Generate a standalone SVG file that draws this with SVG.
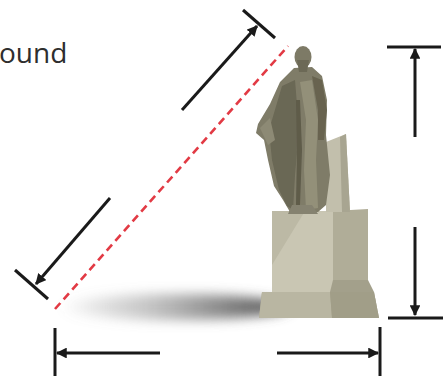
<svg xmlns="http://www.w3.org/2000/svg" width="447" height="376" viewBox="0 0 447 376">
  <style>
    .dim { stroke: #1a1a1a; stroke-width: 3; fill: none; }
    .tick { stroke: #1a1a1a; stroke-width: 3; }
    .label { font-family: "Open Sans", "Liberation Sans", sans-serif; font-size: 28px; fill: #2e2e2e; }
    .sightline { stroke: #e23a44; stroke-width: 2.6; stroke-dasharray: 8 5; fill: none; }
  </style>
  <defs>
    <marker id="head" viewBox="0 0 10 10" refX="9" refY="5" markerWidth="3.6" markerHeight="3.6" orient="auto" markerUnits="strokeWidth">
      <path d="M0,0 L10,5 L0,10 z" fill="#1a1a1a"/>
    </marker>
    <linearGradient id="shadowGrad" x1="0" y1="0" x2="1" y2="0">
      <stop offset="0" stop-color="#777" stop-opacity="0"/>
      <stop offset="0.35" stop-color="#8a8a8a" stop-opacity="0.45"/>
      <stop offset="0.8" stop-color="#666" stop-opacity="0.9"/>
      <stop offset="1" stop-color="#555" stop-opacity="1"/>
    </linearGradient>
    <filter id="soft" x="-20%" y="-80%" width="140%" height="260%">
      <feGaussianBlur stdDeviation="6"/>
    </filter>
    <filter id="slight">
      <feGaussianBlur stdDeviation="0.7"/>
    </filter>
  </defs>

  <rect width="447" height="376" fill="#ffffff"/>

  <!-- text label, partly off the left edge -->
  <g id="label">
    <text class="label" x="-1" y="63">ound</text>
  </g>

  <!-- ground shadow -->
  <g id="shadow">
    <ellipse cx="175" cy="307" rx="115" ry="13" fill="url(#shadowGrad)" filter="url(#soft)"/>
  </g>

  <!-- statue on its pedestal -->
  <g id="statue" filter="url(#slight)">
    <!-- pedestal base -->
    <path d="M262,292 L374,292 L379,318 L259,318 z" fill="#a9a690"/>
    <path d="M262,292 L330,292 L332,318 L259,318 z" fill="#b9b6a2"/>
    <path d="M330,292 L374,292 L379,318 L332,318 z" fill="#a19e88"/>
    <!-- pedestal block -->
    <path d="M272,211 L333,211 L333,292 L272,292 z" fill="#c9c6b3"/>
    <path d="M272,211 L305,211 L272,265 z" fill="#bcb9a5"/>
    <path d="M333,211 L368,209 L368,292 L333,292 z" fill="#b0ad98"/>
    <path d="M333,280 L368,280 L374,292 L330,292 z" fill="#a3a08b"/>
    <!-- stump / plinth beside the figure -->
    <path d="M326,142 L346,134 L350,212 L326,212 z" fill="#c2bfac"/>
    <path d="M340,137 L346,134 L350,212 L342,212 z" fill="#a8a591"/>
    <!-- figure body and cloak -->
    <path d="M294,68 L312,67 L322,76 L327,100 L326,135 L330,175 L326,205 L318,212 L290,212 L283,200 L274,186 L268,160 L264,140 L256,133 L258,124 L270,104 L280,82 z" fill="#7f7c68"/>
    <path d="M282,86 L295,80 L299,130 L295,175 L293,210 L287,206 L279,190 L272,160 L269,130 z" fill="#6a6755"/>
    <path d="M300,82 L312,80 L318,120 L316,160 L318,208 L306,210 L304,170 L306,120 z" fill="#939079"/>
    <path d="M312,76 L322,80 L327,110 L324,140 L318,140 L318,110 z" fill="#67644f"/>
    <path d="M296,100 L300,100 L302,150 L300,205 L296,205 L297,150 z" fill="#5e5b4a"/>
    <path d="M260,128 L270,118 L275,140 L268,145 z" fill="#8d8a75"/>
    <!-- head -->
    <ellipse cx="303" cy="57" rx="8.5" ry="11" fill="#7d7a66"/>
    <path d="M297,60 L309,60 L307,72 L299,72 z" fill="#6c6957"/>
    <!-- feet -->
    <path d="M292,205 L312,205 L318,214 L288,214 z" fill="#858270"/>
  </g>

  <!-- dimension lines and the sight line -->
  <g id="connectors">
    <line class="sightline" x1="55" y1="309" x2="288" y2="46"/>

    <!-- slanted distance -->
    <line class="dim" x1="182" y1="110" x2="257" y2="26" marker-end="url(#head)"/>
    <line class="tick" x1="243" y1="10" x2="275" y2="38"/>
    <line class="dim" x1="110" y1="198" x2="36" y2="284" marker-end="url(#head)"/>
    <line class="tick" x1="15" y1="270" x2="48" y2="299"/>

    <!-- height -->
    <line class="tick" x1="387" y1="47" x2="441" y2="47"/>
    <line class="dim" x1="415" y1="137" x2="415" y2="49" marker-end="url(#head)"/>
    <line class="dim" x1="415" y1="227" x2="415" y2="315" marker-end="url(#head)"/>
    <line class="tick" x1="388" y1="318" x2="443" y2="318"/>

    <!-- ground distance -->
    <line class="tick" x1="55" y1="328" x2="55" y2="376"/>
    <line class="dim" x1="160" y1="353" x2="57" y2="353" marker-end="url(#head)"/>
    <line class="tick" x1="380" y1="327" x2="380" y2="376"/>
    <line class="dim" x1="277" y1="353" x2="378" y2="353" marker-end="url(#head)"/>
  </g>
</svg>
